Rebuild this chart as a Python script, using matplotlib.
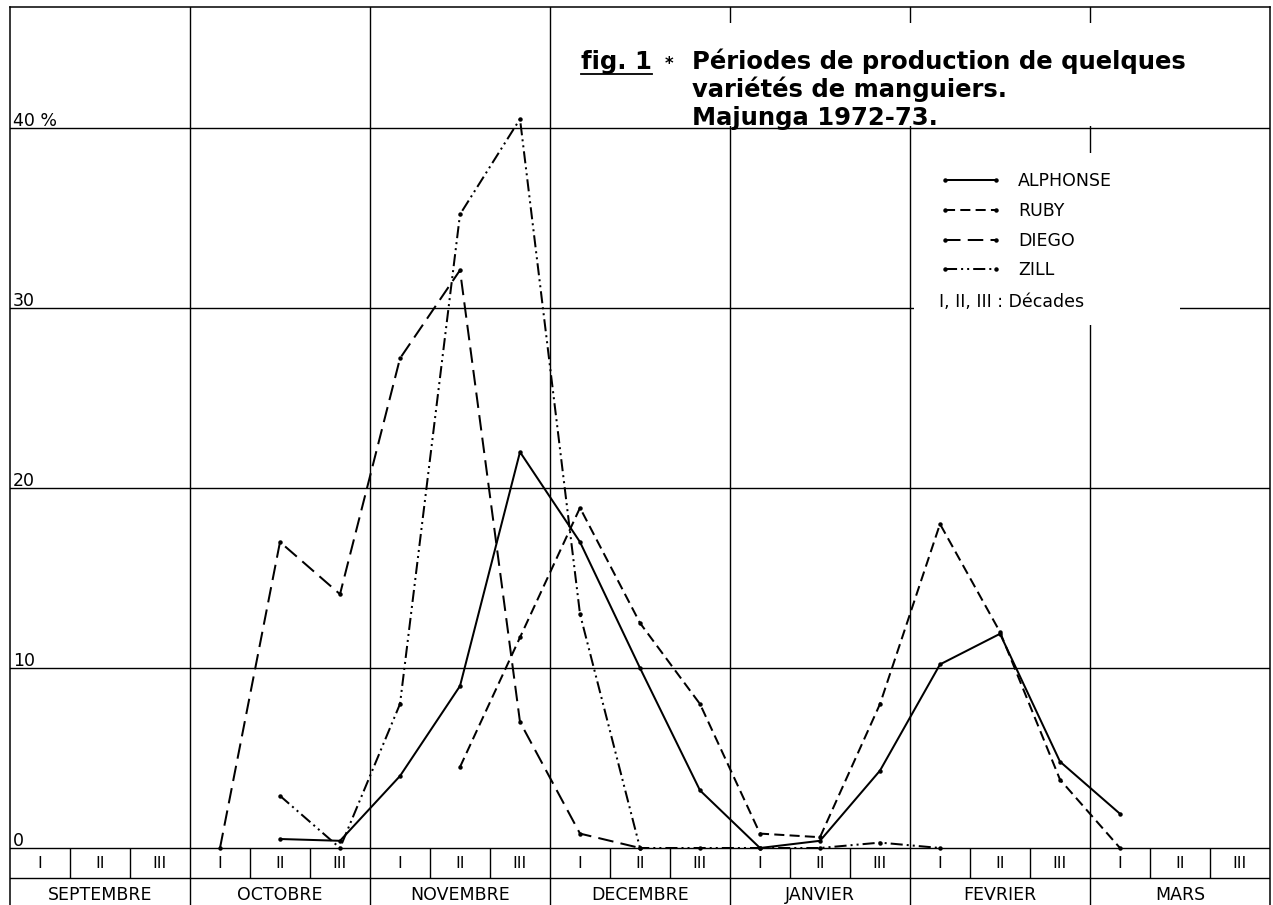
import numpy as np
import matplotlib.pyplot as plt
from matplotlib.patches import Rectangle
from matplotlib.lines import Line2D

nan = np.nan

# one value per decade, SEPTEMBRE I ... MARS III  (% of production)
months = ['SEPTEMBRE', 'OCTOBRE', 'NOVEMBRE', 'DECEMBRE', 'JANVIER', 'FEVRIER', 'MARS']
decades = ['I', 'II', 'III']
yticks = [0, 10, 20, 30, 40]
ytick_labels = ['0', '10', '20', '30', '40 %']

alphonse = [nan, nan, nan, nan, 0.5, 0.4, 4, 9, 22, 17, 10, 3.2,
            0, 0.4, 4.3, 10.2, 11.9, 4.8, 1.9, nan, nan]
ruby = [nan, nan, nan, nan, nan, nan, nan, 4.5, 11.7, 18.9, 12.5, 8,
        0.8, 0.6, 8, 18, 12, 3.8, 0, nan, nan]
diego = [nan, nan, nan, 0, 17, 14.1, 27.2, 32.1, 7, 0.8, 0, nan,
         nan, nan, nan, nan, nan, nan, nan, nan, nan]
zill = [nan, nan, nan, nan, 2.9, 0, 8, 35.2, 40.5, 13, 0, 0,
        0, 0, 0.3, 0, nan, nan, nan, nan, nan]

varieties = ['ALPHONSE', 'RUBY', 'DIEGO', 'ZILL']
series = [alphonse, ruby, diego, zill]
styles = ['-', (0, (5, 2.6)), (0, (7.7, 3.6)), (0, (6, 2, 1, 2, 1, 2))]

W, H = 1273, 905
fig = plt.figure(figsize=(W / 100, H / 100), dpi=100)
ax = fig.add_axes([10 / W, 0, 1260 / W, 898 / H])

px_unit = 18.0  # pixels per %
ax.set_xlim(-0.5, 20.5)
ax.set_ylim(-57 / px_unit, 40 + 121 / px_unit)
ax.set_xticks([])
ax.set_yticks([])
ax.spines['bottom'].set_visible(False)
for s in ['left', 'right', 'top']:
    ax.spines[s].set_linewidth(1.1)

x = np.arange(len(decades) * len(months))
row_bot = -30 / px_unit

# grid
for y in yticks:
    ax.axhline(y, color='k', lw=1.0, zorder=1)
ax.axhline(row_bot, color='k', lw=1.0, zorder=1)
for k in range(1, len(months)):
    ax.axvline(3 * k - 0.5, color='k', lw=1.0, zorder=1)
sep = [d + 0.5 for d in x[:-1] if (d + 1) % 3]
ax.vlines(sep, row_bot, 0, color='k', lw=1.0, zorder=1)

# decade / month labels
for d in x:
    ax.text(d, -15 / px_unit, decades[d % 3], ha='center', va='center', fontsize=11.5)
for m, name in enumerate(months):
    ax.text(3 * m + 1, -47 / px_unit, name, ha='center', va='center', fontsize=12.5)
for y, lab in zip(yticks, ytick_labels):
    ax.text(-0.45, y + 2 / px_unit, lab, ha='left', va='baseline', fontsize=12.5)

# white areas for title and legend
ax.add_patch(Rectangle((8.6, 40.1), 20.45 - 8.6, 5.73, fc='white', ec='none', zorder=2))
ax.add_patch(Rectangle((14.56, 29.06), 19.0 - 14.56, 38.61 - 29.06, fc='white', ec='none', zorder=2))

handles = []
for vals, ls, name in zip(series, styles, varieties):
    h, = ax.plot(x, vals, color='k', lw=1.45, linestyle=ls, marker='o', markersize=2.2,
                 zorder=3, label=name)
    handles.append(h)

ax.legend(handles=handles, loc='upper left', bbox_to_anchor=(940 / W, 1 - 172 / H),
          bbox_transform=fig.transFigure, frameon=False, fontsize=12.5, handlelength=3.5,
          handletextpad=1.0, labelspacing=0.68, borderpad=0, borderaxespad=0, numpoints=2)
fig.text(939 / W, 1 - 302 / H, 'I, II, III : Décades', va='center', fontsize=12.5)

# title
tfig = fig.text(581 / W, 1 - 69.5 / H, 'fig. 1', fontsize=17.5, weight='bold', va='baseline')
fig.text(665 / W, 1 - 69.5 / H, '*', fontsize=12, weight='bold', va='baseline')
title_lines = ['Périodes de production de quelques', 'variétés de manguiers.', 'Majunga 1972-73.']
for i, line in enumerate(title_lines):
    fig.text(692 / W, 1 - (69.5 + 27.5 * i) / H, line, fontsize=17.5, weight='bold',
             va='baseline')

fig.canvas.draw()
bb = tfig.get_window_extent()
yl = (H - 74) / H
fig.add_artist(Line2D([bb.x0 / W, bb.x1 / W], [yl, yl], transform=fig.transFigure,
                      color='k', lw=1.3))

fig.savefig('out.png', dpi=100)
